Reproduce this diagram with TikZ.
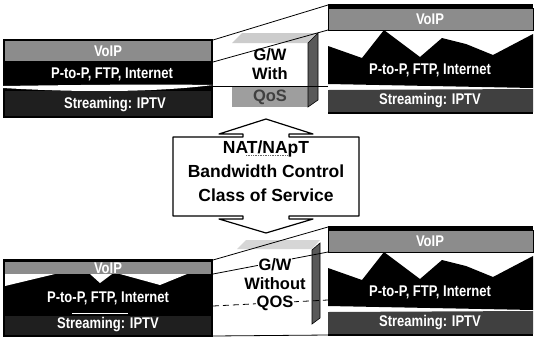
\documentclass[tikz,border=0pt]{standalone}
\usepackage{fontspec}
\setmainfont{Liberation Sans}
\newfontfamily\narrowsans[FakeStretch=0.84]{Liberation Sans}
\usetikzlibrary{calc}
\definecolor{voipgray}{gray}{0.55}
\definecolor{streamdark}{gray}{0.12}
\definecolor{streamgray}{gray}{0.25}
\definecolor{topface}{gray}{0.8}
\definecolor{sideface}{gray}{0.35}
\definecolor{qosgray}{gray}{0.62}

\begin{document}
\begin{tikzpicture}[x=1pt,y=-1pt,
  lbl/.style={text=white,font=\narrowsans\bfseries\fontsize{15.5}{17}\selectfont,inner sep=0pt},
  gwtext/.style={font=\bfseries\fontsize{16.5}{20}\selectfont,inner sep=0pt},
  bigtext/.style={font=\bfseries\fontsize{17.5}{24}\selectfont,align=center,inner sep=0pt},
  link/.style={line width=.8pt}]
\useasboundingbox[fill=white] (0,0) rectangle (536,341);

% top left panel
\fill[black] (3,39) rectangle (213,118);
\fill[voipgray] (5,41) rectangle (211,61);
\fill[white] (3,86) .. controls (70,85) and (150,84) .. (213,85)
  .. controls (150,93) and (70,92) .. (3,88) -- cycle;
\fill[streamdark] (5,91) rectangle (211,116);
\node[lbl] (tlvoip) at (108,51) {VoIP};
\node[lbl] (tlp2p) at (112,74) {P-to-P, FTP, Internet};
\node[lbl] (tlstream) at (115,105) {Streaming: IPTV};

% right panels, with and without QoS look the same
\foreach \dy/\nm in {0/tr,222/br}{
\begin{scope}[shift={(0,\dy)}]
\fill[black] (328,4) rectangle (533,8);
\fill[voipgray,draw=black,line width=.8pt] (328,8) rectangle (533,30);
\fill[black] (328,46) -- (362,58) -- (384,30) -- (420,57) -- (442,38)
  -- (466,44) -- (493,55) -- (533,34) -- (533,88) -- (328,84) -- cycle;
\fill[streamgray] (328,90) -- (533,89) -- (533,112) -- (328,112) -- cycle;
\draw[line width=1.5pt] (328,113) -- (533,113);
\node[lbl] (\nm voip) at (430,19) {VoIP};
\node[lbl] (\nm p2p) at (430,70) {P-to-P, FTP, Internet};
\node[lbl] (\nm stream) at (430,101) {Streaming: IPTV};
\end{scope}}

% bottom left panel
\fill[black] (3,259) rectangle (213,337);
\fill[voipgray] (5,262) rectangle (211,274);
\fill[white] (5,274) -- (55,274) -- (5,286) -- cycle;
\fill[white] (90,274) -- (112,274) -- (100,283) -- cycle;
\fill[white] (120,274) -- (187,274) -- (160,285) -- cycle;
\fill[streamdark] (5,316) rectangle (211,335);
\draw[white,line width=1pt] (72,313) -- (128,313);
\node[lbl] (blvoip) at (108,268) {VoIP};
\node[lbl] (blp2p) at (108,298) {P-to-P, FTP, Internet};
\node[lbl] (blstream) at (108,325) {Streaming: IPTV};

% gateway with QoS
\fill[white] (232,43) rectangle (308,107);
\fill[qosgray] (232,86) rectangle (308,107);
\fill[topface] (232,43) -- (308,43) -- (318,33) -- (242,33) -- cycle;
\fill[sideface,draw=black,line width=.6pt] (308,43) -- (318,33) -- (318,100) -- (308,107) -- cycle;

% gateway without QoS
\fill[white] (237,249) rectangle (312,322);
\fill[topface!80] (237,249) -- (312,249) -- (320,240) -- (246,240) -- cycle;
\fill[sideface,draw=black,line width=.6pt] (312,250) -- (320,243) -- (320,318) -- (312,324) -- cycle;

% links between the panels
\coordinate (tla) at (213,40);  \coordinate (tra) at (328,5);
\coordinate (tlb) at (213,62);  \coordinate (trb) at (328,30);
\coordinate (tlc) at (213,86);  \coordinate (trc) at (328,86);
\coordinate (bla) at (213,260); \coordinate (bra) at (328,227);
\coordinate (blb) at (213,274); \coordinate (brb) at (328,252);
\coordinate (blc) at (213,306); \coordinate (brc) at (328,300);
\coordinate (bld) at (213,336); \coordinate (brd) at (328,335);
\draw[link] (tla) -- (tra);
\draw[link] (tlb) -- (trb);
\draw[link] (tlc) -- (trc);
\draw[link] (bla) -- (bra);
\draw[link] (blb) -- (brb);
\draw[link,dash pattern=on 6pt off 4pt] (blc) -- (brc);
\draw[link] (bld) -- (brd);

\node[gwtext] (gwa) at (270,55) {G/W};
\node[gwtext] (witha) at (270,74) {With};
\node[gwtext,text=black!75] (qos) at (270,97) {QoS};
\node[gwtext,fill=white,inner sep=1pt] (gwb) at (275,265) {G/W};
\node[gwtext] (withoutb) at (275,284) {Without};
\node[gwtext,fill=white,inner sep=1pt] (qosb) at (275,303) {QOS};

% double arrow box in the middle
\draw[fill=white,line width=1.2pt,line join=round]
  (173,137) -- (243,137) -- (243,134) -- (219,134) -- (266,119) -- (313,134)
  -- (289,134) -- (289,137) -- (359,137) -- (359,216) -- (289,216)
  -- (289,219) -- (313,219) -- (266,233) -- (219,219) -- (243,219)
  -- (243,216) -- (173,216) -- cycle;
\node[bigtext] (feat) at (266,171) {NAT/NApT\\Bandwidth Control\\Class of Service};
\draw[black!60,densely dotted,line width=.7pt] (246,155) -- (287,155);
\end{tikzpicture}
\end{document}
